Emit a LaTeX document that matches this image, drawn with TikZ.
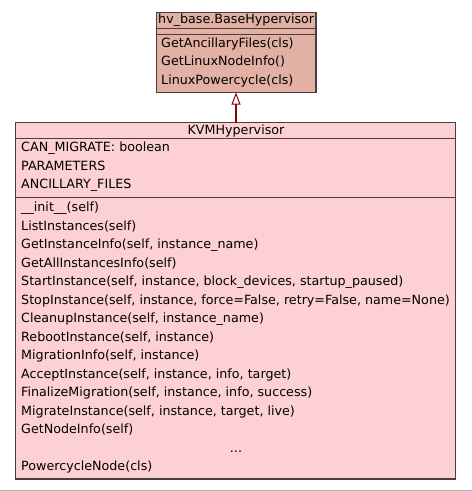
\documentclass[tikz,border=0pt]{standalone}
\usepackage{fontspec}
\setmainfont{DejaVu Sans}
\usetikzlibrary{arrows.meta}
\definecolor{basefill}{HTML}{E2B1A3}
\definecolor{classfill}{HTML}{FDD0D4}
\definecolor{edgegray}{HTML}{4A3E3E}
\definecolor{inherit}{HTML}{8B0000}
\tikzset{
  classbox/.style={draw=edgegray, line width=1.3pt, inner sep=0pt},
  sep/.style={draw=edgegray, line width=1pt},
  member/.style={anchor=base west, inner sep=0pt, font=\fontsize{12.7}{14}\selectfont},
  title/.style={anchor=base, inner sep=0pt, font=\fontsize{12.7}{14}\selectfont},
  generalize/.style={draw=inherit, line width=2pt,
    -{Triangle[open, length=12pt, width=9pt, line width=1pt, fill=white]}},
}
\begin{document}
\begin{tikzpicture}[x=1pt, y=-1pt]
\useasboundingbox (0,0) rectangle (472,491);
\fill[white] (0,0) rectangle (472,491);
\draw[gray!60, line width=1pt] (0,490) -- (472,490);

% base class
\path[classbox, fill=basefill] (156.5,12.5) rectangle (316,92.5);
\coordinate (basebottom) at (236,92.5);
\draw[sep] (156.5,28) -- (316,28);
\draw[sep] (156.5,34.5) -- (316,34.5);
\node[title] (basename) at (236.2,23.3) {hv\_base.BaseHypervisor};
\node[member] (b1) at (161,47) {GetAncillaryFiles(cls)};
\node[member] (b2) at (161,65.5) {GetLinuxNodeInfo()};
\node[member] (b3) at (161,84) {LinuxPowercycle(cls)};

% derived class
\path[classbox, fill=classfill] (15.5,122.5) rectangle (455.5,479);
\coordinate (kvmtop) at (236,122.5);
\draw[sep] (15.5,138.5) -- (455.5,138.5);
\draw[sep] (15.5,197.8) -- (455.5,197.8);
\node[title] (kvmname) at (236,134.3) {KVMHypervisor};
\node[member] (a1) at (21,151.7) {CAN\_MIGRATE: boolean};
\node[member] (a2) at (21,170.2) {PARAMETERS};
\node[member] (a3) at (21,188.7) {ANCILLARY\_FILES};
\node[member] (m1)  at (21,211.7) {\_\_init\_\_(self)};
\node[member] (m2)  at (21,230.2) {ListInstances(self)};
\node[member] (m3)  at (21,248.7) {GetInstanceInfo(self, instance\_name)};
\node[member] (m4)  at (21,267.2) {GetAllInstancesInfo(self)};
\node[member] (m5)  at (21,285.7) {StartInstance(self, instance, block\_devices, startup\_paused)};
\node[member] (m6)  at (21,304.2) {StopInstance(self, instance, force=False, retry=False, name=None)};
\node[member] (m7)  at (21,322.7) {CleanupInstance(self, instance\_name)};
\node[member] (m8)  at (21,341.2) {RebootInstance(self, instance)};
\node[member] (m9)  at (21,359.7) {MigrationInfo(self, instance)};
\node[member] (m10) at (21,378.2) {AcceptInstance(self, instance, info, target)};
\node[member] (m11) at (21,396.7) {FinalizeMigration(self, instance, info, success)};
\node[member] (m12) at (21,415.2) {MigrateInstance(self, instance, target, live)};
\node[member] (m13) at (21,433.7) {GetNodeInfo(self)};
\node[title]  (more) at (236,452.2) {...};
\node[member] (m14) at (21,470.7) {PowercycleNode(cls)};

% inheritance
\draw[generalize] (kvmtop) -- (basebottom);
\end{tikzpicture}
\end{document}
